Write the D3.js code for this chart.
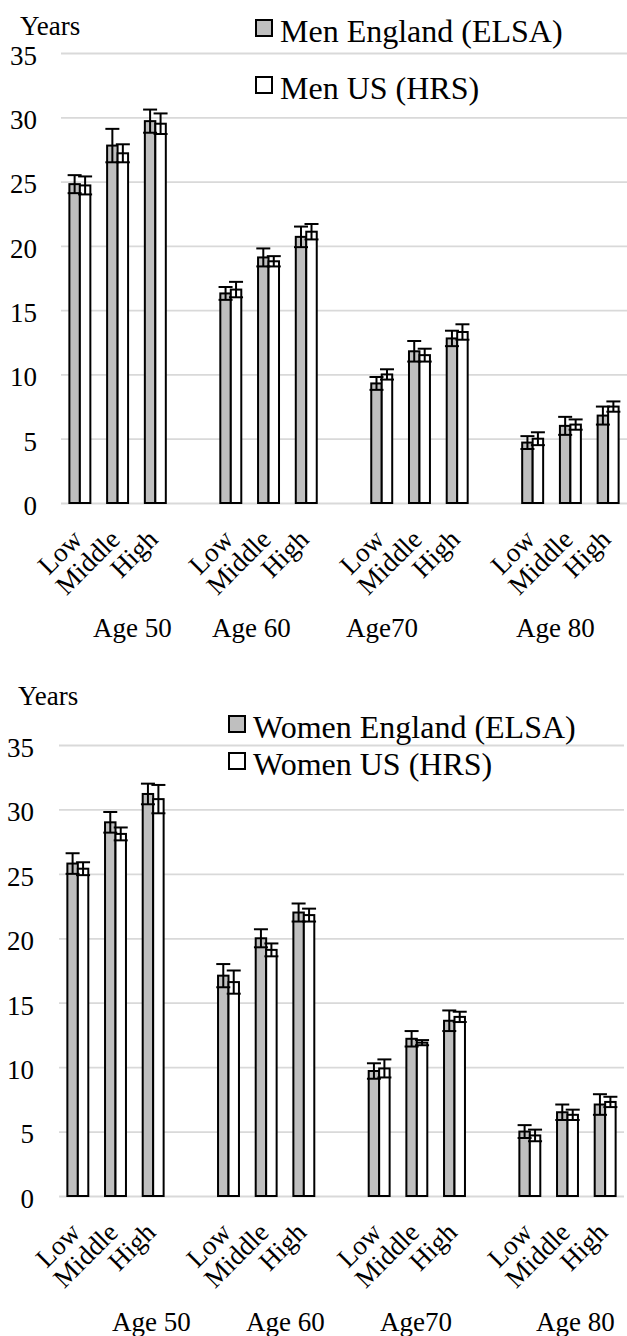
<!DOCTYPE html>
<html>
<head>
<meta charset="utf-8">
<script src="https://cdn.jsdelivr.net/npm/d3@7"></script>
<style>
  body { margin: 0; background: #fff; }
  svg text { font-family: "Liberation Serif", "DejaVu Serif", "Times New Roman", serif; }
  .grid line { stroke: #d9d9d9; stroke-width: 1.8; }
  .grid .domain, .xaxis .domain { display: none; }
</style>
</head>
<body>
<svg width="627" height="1336"></svg>
<script>
// data
var ages = ["Age 50", "Age 60", "Age70", "Age 80"];
var levels = ["Low", "Middle", "High"];
var yTicks = [0, 5, 10, 15, 20, 25, 30, 35];

var menElsa    = [24.8, 27.8, 29.7, 16.3, 19.1, 20.7, 9.3, 11.8, 12.8, 4.7, 6.0, 6.8];
var menElsaErr = [0.7, 1.3, 0.9, 0.5, 0.7, 0.8, 0.5, 0.8, 0.6, 0.5, 0.7, 0.7];
var menHrs     = [24.7, 27.2, 29.5, 16.6, 18.8, 21.1, 10.0, 11.5, 13.3, 5.0, 6.1, 7.5];
var menHrsErr  = [0.7, 0.7, 0.8, 0.6, 0.4, 0.6, 0.4, 0.5, 0.6, 0.5, 0.4, 0.4];

var womenElsa    = [25.8, 29.0, 31.2, 17.1, 20.0, 22.0, 9.7, 12.2, 13.6, 5.0, 6.5, 7.1];
var womenElsaErr = [0.8, 0.8, 0.8, 0.9, 0.7, 0.7, 0.6, 0.6, 0.8, 0.5, 0.6, 0.8];
var womenHrs     = [25.4, 28.1, 30.8, 16.6, 19.1, 21.8, 9.9, 11.9, 13.9, 4.7, 6.3, 7.3];
var womenHrsErr  = [0.5, 0.5, 1.1, 0.9, 0.5, 0.5, 0.7, 0.2, 0.4, 0.45, 0.4, 0.4];

var FONT = '"Liberation Serif", "DejaVu Serif", serif';
var svg = d3.select("svg");

function drawChart(cfg) {
    // 15 slots: 3 levels per age plus an empty slot between ages
    var slots = [];
    ages.forEach(function(a, i) {
        levels.forEach(function(l) { slots.push(a + "|" + l); });
        if (i < ages.length - 1) slots.push("gap" + i);
    });

    var x = d3.scaleBand().domain(slots).range([cfg.left, cfg.right]).padding(0);
    var xs = d3.scaleBand().domain(["elsa", "hrs"]).range([0, x.bandwidth()])
        .paddingInner(0).paddingOuter(0.8);
    var y = d3.scaleLinear().domain([0, 35]).range([cfg.bottom, cfg.top]);

    var g = svg.append("g");

    // gridlines + y labels
    var ya = g.append("g")
        .attr("class", "grid")
        .attr("transform", "translate(" + cfg.left + ",0)")
        .call(d3.axisLeft(y).tickValues(yTicks).tickSize(-(cfg.right - cfg.left)).tickPadding(cfg.labPad));
    ya.attr("font-family", FONT).attr("font-size", 27);
    ya.selectAll("text")
        .attr("dy", "0.42em")
        .attr("fill", "#000");

    // x labels
    var xa = g.append("g")
        .attr("class", "xaxis")
        .attr("transform", "translate(0," + cfg.bottom + ")")
        .call(d3.axisBottom(x)
            .tickValues(slots.filter(function(s) { return s.indexOf("gap") !== 0; }))
            .tickSize(0)
            .tickFormat(function(s) { return s.split("|")[1]; }));
    xa.attr("font-family", FONT).attr("font-size", 27);
    xa.selectAll("text")
        .attr("x", 0).attr("y", 0).attr("dy", 0)
        .attr("text-anchor", "end")
        .attr("transform", "translate(4,38) rotate(-45)")
        .attr("fill", "#000");

    var rows = [];
    ages.forEach(function(a, i) {
        levels.forEach(function(l, j) {
            var k = i * 3 + j;
            rows.push({ slot: a + "|" + l, s: "elsa", v: cfg.elsa[k], e: cfg.elsaErr[k] });
            rows.push({ slot: a + "|" + l, s: "hrs", v: cfg.hrs[k], e: cfg.hrsErr[k] });
        });
    });

    g.selectAll(".bar")
        .data(rows)
        .enter().append("rect")
        .attr("class", "bar")
        .attr("x", function(d) { return x(d.slot) + xs(d.s); })
        .attr("y", function(d) { return y(d.v); })
        .attr("width", xs.bandwidth())
        .attr("height", function(d) { return cfg.bottom - y(d.v); })
        .attr("fill", function(d) { return d.s === "elsa" ? "#bfbfbf" : "#fff"; })
        .attr("stroke", "#000")
        .attr("stroke-width", 2);

    // error bars
    var eb = g.selectAll(".err")
        .data(rows)
        .enter().append("g")
        .attr("class", "err")
        .attr("transform", function(d) { return "translate(" + (x(d.slot) + xs(d.s) + xs.bandwidth() / 2) + ",0)"; })
        .attr("stroke", "#000")
        .attr("stroke-width", 2);
    eb.append("line")
        .attr("y1", function(d) { return y(d.v - d.e); })
        .attr("y2", function(d) { return y(d.v + d.e); });
    eb.append("line")
        .attr("x1", -7).attr("x2", 7)
        .attr("y1", function(d) { return y(d.v + d.e); })
        .attr("y2", function(d) { return y(d.v + d.e); });
    eb.append("line")
        .attr("x1", -7).attr("x2", 7)
        .attr("y1", function(d) { return y(d.v - d.e); })
        .attr("y2", function(d) { return y(d.v - d.e); });

    // age labels
    g.selectAll(".age")
        .data(ages)
        .enter().append("text")
        .attr("class", "age")
        .attr("x", function(d, i) { return cfg.ageX[i]; })
        .attr("y", cfg.ageY)
        .attr("font-family", FONT)
        .attr("font-size", 27)
        .text(function(d) { return d; });

    g.append("text")
        .attr("x", cfg.yearsX).attr("y", cfg.yearsY)
        .attr("font-family", FONT)
        .attr("font-size", 27)
        .text("Years");

    // legend
    var lg = g.selectAll(".leg")
        .data(cfg.legend)
        .enter().append("g")
        .attr("class", "leg")
        .attr("transform", function(d, i) { return "translate(" + cfg.legX + "," + cfg.legY[i] + ")"; });
    lg.append("rect")
        .attr("x", 0).attr("y", -22)
        .attr("width", 16).attr("height", 16)
        .attr("fill", function(d, i) { return i === 0 ? "#bfbfbf" : "#fff"; })
        .attr("stroke", "#000")
        .attr("stroke-width", 2);
    lg.append("text")
        .attr("x", 24).attr("y", 0)
        .attr("font-family", FONT)
        .attr("font-size", 32)
        .text(function(d) { return d; });
}

drawChart({
    left: 61, right: 627, top: 53, bottom: 503, labPad: 24,
    elsa: menElsa, elsaErr: menElsaErr, hrs: menHrs, hrsErr: menHrsErr,
    ageX: [93, 212, 346, 516], ageY: 637,
    yearsX: 20, yearsY: 35,
    legX: 256, legY: [42, 99],
    legend: ["Men England (ELSA)", "Men US (HRS)"]
});

drawChart({
    left: 59, right: 624, top: 745, bottom: 1196, labPad: 25,
    elsa: womenElsa, elsaErr: womenElsaErr, hrs: womenHrs, hrsErr: womenHrsErr,
    ageX: [112, 246, 380, 536], ageY: 1331,
    yearsX: 18, yearsY: 705,
    legX: 229, legY: [738, 775],
    legend: ["Women England (ELSA)", "Women US (HRS)"]
});
</script>
</body>
</html>
